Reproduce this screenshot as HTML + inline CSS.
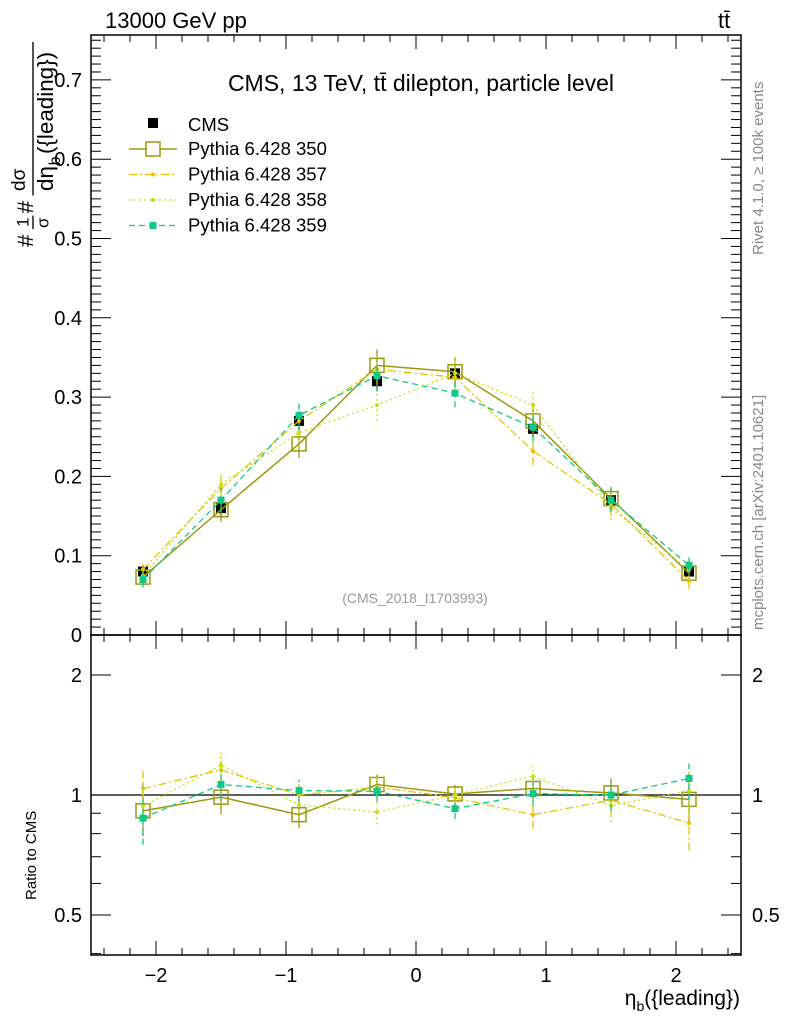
<!DOCTYPE html>
<html><head><meta charset="utf-8">
<style>
body{margin:0;background:#fff;}
svg{display:block;font-family:"Liberation Sans",sans-serif;}
</style></head>
<body>
<svg id="chart" width="786" height="1024" viewBox="0 0 786 1024" xmlns="http://www.w3.org/2000/svg">
<text x="105" y="28" font-size="22">13000 GeV pp</text>
<text x="718" y="28" font-size="22">tt̄</text>
<text x="421" y="91" font-size="23" text-anchor="middle">CMS, 13 TeV, tt̄ dilepton, particle level</text>
<text x="415" y="603" font-size="14" fill="#999" text-anchor="middle">(CMS_2018_I1703993)</text>
<text transform="translate(763,255) rotate(-90)" font-size="15" fill="#888">Rivet 4.1.0, ≥ 100k events</text>
<text transform="translate(763,630) rotate(-90)" font-size="15" fill="#888">mcplots.cern.ch [arXiv:2401.10621]</text>
<g transform="translate(33,247) rotate(-90) scale(1.12)">
  <text x="0" y="0" font-size="20">#</text>
  <text x="18" y="-4" font-size="15">1</text>
  <line x1="16" y1="0" x2="28" y2="0" stroke="#000" stroke-width="1.2"/>
  <text x="17" y="14" font-size="15">σ</text>
  <text x="30" y="0" font-size="20">#</text>
  <text x="50" y="-7" font-size="17">dσ</text>
  <line x1="46" y1="0" x2="183" y2="0" stroke="#000" stroke-width="1.2"/>
  <text x="50" y="18" font-size="20">dη</text>
  <text x="73" y="24" font-size="14">b</text>
  <text x="83" y="18" font-size="20">({leading})</text>
</g>
<text transform="translate(36,900) rotate(-90)" font-size="15">Ratio to CMS</text>
<text x="740" y="1005" font-size="21" text-anchor="end">η<tspan font-size="14" dy="6">b</tspan><tspan dy="-6">({leading})</tspan></text>
<g id="main"></g>
<g id="ratio"></g>
<g id="legend"></g>
</svg>
<script>
const xCenters = [-2.1,-1.5,-0.9,-0.3,0.3,0.9,1.5,2.1];
const cmsVals = [0.080,0.160,0.270,0.320,0.330,0.260,0.170,0.080];
const cmsErr  = [0.006,0.010,0.012,0.012,0.012,0.010,0.010,0.006];
const p350 = [0.073,0.158,0.241,0.340,0.332,0.270,0.172,0.078];
const p357 = [0.083,0.185,0.270,0.335,0.325,0.232,0.165,0.068];
const p358 = [0.075,0.190,0.255,0.290,0.330,0.290,0.160,0.082];
const p359 = [0.070,0.170,0.277,0.327,0.305,0.262,0.170,0.088];
const mcErr = [0.010,0.015,0.018,0.020,0.018,0.018,0.015,0.010];
const yTicksMain = [0,0.1,0.2,0.3,0.4,0.5,0.6,0.7];
const yTicksRatio = [0.5,1,2];
const xTicks = [-2,-1,0,1,2];

const NS="http://www.w3.org/2000/svg";
const L=91,R=741,MT=35,MB=635,RB=955;
const X=v=>416+v*130;
const Ym=v=>635-v*793;
const Yr=v=>795-Math.log2(v)*120;
function mk(p,tag,at){const e=document.createElementNS(NS,tag);for(const k in at)e.setAttribute(k,at[k]);p.appendChild(e);return e;}
const main=document.getElementById('main'),ratio=document.getElementById('ratio'),leg=document.getElementById('legend');

let f1=mk(main,'rect',{x:L,y:MT,width:R-L,height:MB-MT,fill:'none',stroke:'#000','stroke-width':1.5});


let f2=mk(ratio,'rect',{x:L,y:MB,width:R-L,height:RB-MB,fill:'none',stroke:'#000','stroke-width':1.5});



for(let v=-2.4;v<=2.41;v+=0.2){
  const x=X(Math.round(v*10)/10);const maj=Math.abs(Math.round(v*10)%10)===0;const len=maj?14:7;
  mk(main,'line',{x1:x,y1:MB,x2:x,y2:MB-len,stroke:'#000'});
  mk(main,'line',{x1:x,y1:MT,x2:x,y2:MT+len,stroke:'#000'});
  mk(ratio,'line',{x1:x,y1:RB,x2:x,y2:RB-len,stroke:'#000'});
  mk(ratio,'line',{x1:x,y1:MB,x2:x,y2:MB+len,stroke:'#000'});
}
xTicks.forEach(v=>{const t=mk(ratio,'text',{x:X(v),y:982,'font-size':20,'text-anchor':'middle'});t.textContent=v<0?'−'+Math.abs(v):v;

});

for(let i=0;i<=75;i++){const v=i/100;const y=Ym(v);if(y<MT)break;const maj=i%10===0;const len=maj?20:10;
  mk(main,'line',{x1:L,y1:y,x2:L+len,y2:y,stroke:'#000'});
  mk(main,'line',{x1:R,y1:y,x2:R-len,y2:y,stroke:'#000'});}
yTicksMain.forEach(v=>{const t=mk(main,'text',{x:82,y:Ym(v)+7,'font-size':20,'text-anchor':'end'});t.textContent=v===0?'0':v.toFixed(1);

});

[0.4,0.5,0.6,0.7,0.8,0.9,1,2].forEach(v=>{const y=Yr(v);const maj=yTicksRatio.includes(v);const len=maj?20:10;
  mk(ratio,'line',{x1:L,y1:y,x2:L+len,y2:y,stroke:'#000'});
  mk(ratio,'line',{x1:R,y1:y,x2:R-len,y2:y,stroke:'#000'});});
yTicksRatio.forEach(v=>{const a=mk(ratio,'text',{x:82,y:Yr(v)+7,'font-size':20,'text-anchor':'end'});a.textContent=v;


const b=mk(ratio,'text',{x:752,y:Yr(v)+7,'font-size':20});b.textContent=v;

});
mk(ratio,'line',{x1:L,y1:Yr(1),x2:R,y2:Yr(1),stroke:'#000','stroke-width':1.2});

const series=[
 {name:'Pythia 6.428 350',vals:p350,col:'#9a9a10',dash:'',marker:'open',w:1.5},
 {name:'Pythia 6.428 357',vals:p357,col:'#e8c400',dash:'8,3,2,3',marker:'dot',w:1.3},
 {name:'Pythia 6.428 358',vals:p358,col:'#c8e010',dash:'2,3',marker:'dot',w:1.3},
 {name:'Pythia 6.428 359',vals:p359,col:'#10c888',dash:'6,4',marker:'sq',w:1.3}];

function drawSeries(g,s,Yf,valsY,errs){
  const pts=xCenters.map((x,i)=>X(x)+','+Yf(valsY[i])).join(' ');
  const pl=mk(g,'polyline',{points:pts,fill:'none',stroke:s.col,'stroke-width':s.w,'stroke-dasharray':s.dash});
  
  
  xCenters.forEach((x,i)=>{const cx=X(x),cy=Yf(valsY[i]);
    mk(g,'line',{x1:cx,y1:Yf(valsY[i]-errs[i]),x2:cx,y2:Yf(valsY[i]+errs[i]),stroke:s.col,'stroke-width':1.3,'stroke-dasharray':s.dash});
    let m;
    if(s.marker==='open')m=mk(g,'rect',{x:cx-7,y:cy-7,width:14,height:14,fill:'none',stroke:s.col,'stroke-width':1.5});
    else if(s.marker==='sq')m=mk(g,'rect',{x:cx-3.5,y:cy-3.5,width:7,height:7,fill:s.col});
    else m=mk(g,'circle',{cx:cx,cy:cy,r:2,fill:s.col});
    
    
  });
}
xCenters.forEach((x,i)=>{const cx=X(x);
  mk(main,'line',{x1:cx,y1:Ym(cmsVals[i]-cmsErr[i]),x2:cx,y2:Ym(cmsVals[i]+cmsErr[i]),stroke:'#000','stroke-width':1.3});
  const m=mk(main,'rect',{x:cx-5,y:Ym(cmsVals[i])-5,width:10,height:10,fill:'#000'});
  
  
  mk(ratio,'line',{x1:cx,y1:Yr(1-cmsErr[i]/cmsVals[i]),x2:cx,y2:Yr(1+cmsErr[i]/cmsVals[i]),stroke:'#000','stroke-width':1});
});
series.forEach(s=>{
  drawSeries(main,s,Ym,s.vals,mcErr);
  const r=s.vals.map((v,i)=>v/cmsVals[i]);
  const re=mcErr.map((e,i)=>e/cmsVals[i]);
  drawSeries(ratio,s,Yr,r,re);
});

const lt=mk(leg,'rect',{x:148,y:118,width:10,height:10,fill:'#000'});


const ltx=mk(leg,'text',{x:188,y:131,'font-size':18.5});ltx.textContent='CMS';


series.forEach((s,i)=>{const y=149+i*25.5;
  mk(leg,'line',{x1:129,y1:y,x2:177,y2:y,stroke:s.col,'stroke-width':s.w,'stroke-dasharray':s.dash});
  if(s.marker==='open')mk(leg,'rect',{x:146,y:y-7,width:14,height:14,fill:'#fff',stroke:s.col,'stroke-width':1.5});
  else if(s.marker==='sq')mk(leg,'rect',{x:149.5,y:y-3.5,width:7,height:7,fill:s.col});
  else mk(leg,'circle',{cx:153,cy:y,r:2,fill:s.col});
  const t=mk(leg,'text',{x:188,y:y+6,'font-size':18.5});t.textContent=s.name;
  
  
});
</script>
</body></html>
